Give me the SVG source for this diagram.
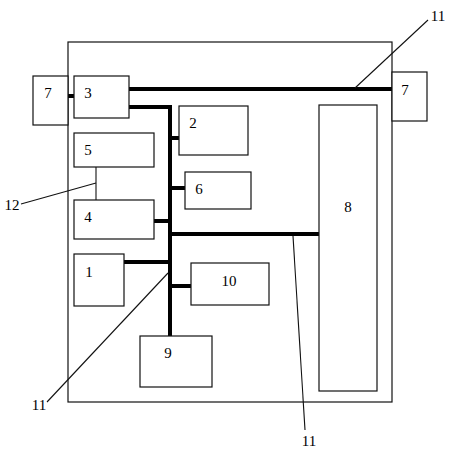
<svg xmlns="http://www.w3.org/2000/svg" width="455" height="450" viewBox="0 0 455 450">
<style>
.b{fill:#fff;stroke:#111;stroke-width:1.2}
.o{fill:none;stroke:#111;stroke-width:1.2}
.t{font-family:"Liberation Serif",serif;font-size:15px;fill:#000;text-anchor:middle}
.k{stroke:#000;stroke-width:4;fill:none}
.l{stroke:#111;stroke-width:1.1;fill:none}
</style>
<rect x="0" y="0" width="455" height="450" fill="#fff"/>
<g id="housing"><rect class="o" x="68" y="42" width="324" height="360"/></g>
<g id="connectors">
<line class="k" x1="68" y1="96" x2="74" y2="96"/>
<line class="k" x1="129" y1="89" x2="392" y2="89"/>
<polyline class="k" points="129,107 170,107 170,336"/>
<line class="k" x1="170" y1="138" x2="179" y2="138"/>
<line class="k" x1="170" y1="188" x2="185" y2="188"/>
<line class="k" x1="154" y1="221" x2="170" y2="221"/>
<line class="k" x1="170" y1="234" x2="319" y2="234"/>
<line class="k" x1="124" y1="262" x2="170" y2="262"/>
<line class="k" x1="170" y1="286" x2="191" y2="286"/>
<line class="l" x1="96" y1="167" x2="96" y2="200"/>
<line class="l" x1="21" y1="204" x2="96" y2="183"/>
<line class="l" x1="355" y1="88" x2="428" y2="20"/>
<line class="l" x1="168" y1="273" x2="47" y2="402"/>
<line class="l" x1="293" y1="236" x2="305" y2="430"/>
</g>
<g id="n7a"><rect class="b" x="33" y="76" width="35" height="49"/><text class="t" x="48" y="98">7</text></g>
<g id="n3"><rect class="b" x="74" y="76" width="55" height="42"/><text class="t" x="88" y="98">3</text></g>
<g id="n7b"><rect class="b" x="392" y="72" width="35" height="49"/><text class="t" x="405" y="95">7</text></g>
<g id="n2"><rect class="b" x="179" y="106" width="69" height="49"/><text class="t" x="193" y="128">2</text></g>
<g id="n5"><rect class="b" x="74" y="133" width="80" height="34"/><text class="t" x="88" y="155">5</text></g>
<g id="n6"><rect class="b" x="185" y="172" width="66" height="37"/><text class="t" x="199" y="194">6</text></g>
<g id="n4"><rect class="b" x="74" y="200" width="80" height="39"/><text class="t" x="88" y="222">4</text></g>
<g id="n8"><rect class="b" x="319" y="105" width="58" height="286"/><text class="t" x="348" y="212">8</text></g>
<g id="n1"><rect class="b" x="74" y="254" width="50" height="52"/><text class="t" x="89" y="277">1</text></g>
<g id="n10"><rect class="b" x="191" y="263" width="78" height="42"/><text class="t" x="229" y="286">10</text></g>
<g id="n9"><rect class="b" x="140" y="336" width="72" height="51"/><text class="t" x="168" y="358">9</text></g>
<g id="labels">
<text class="t" x="12" y="210">12</text>
<text class="t" x="438" y="21">11</text>
<text class="t" x="39" y="410">11</text>
<text class="t" x="309" y="446">11</text>
</g>
</svg>
